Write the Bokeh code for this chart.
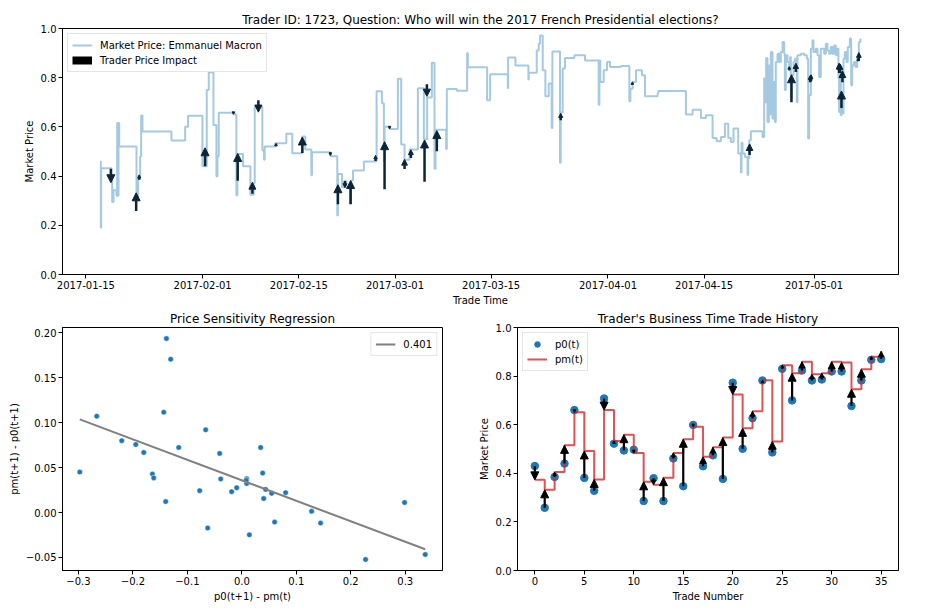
import numpy as np
import pandas as pd
from bokeh.plotting import figure
from bokeh.layouts import column, row
from bokeh.models import (ColumnDataSource, Arrow, NormalHead, FixedTicker, Range1d,
                          CustomJSTickFormatter, DatetimeTickFormatter, NumeralTickFormatter)
from bokeh.core.properties import field
from bokeh.embed import file_html
from bokeh.resources import INLINE

FONT = "DejaVu Sans"

# ---------------- data ----------------
base_date = "2017-01-15"
top_title = "Trader ID: 1723, Question: Who will win the 2017 French Presidential elections?"
market_label = "Market Price: Emmanuel Macron"

# market price (days after base_date, price) - step series
mkt_day = [2.13, 2.18, 2.23, 3.73, 3.83, 4.02, 4.46, 4.56, 4.65, 4.75, 4.85, 7.37, 7.61, 7.90, 8.05,
           8.24, 12.46, 14.45, 14.88, 16.97, 17.60, 17.89, 18.57, 19.00, 19.15, 19.34, 21.67, 21.91,
           22.06, 22.88, 23.95, 24.43, 24.58, 25.69, 25.93, 26.03, 27.58, 29.18, 30.05, 31.51, 31.94,
           32.82, 32.91, 35.63, 36.60, 36.69, 37.28, 37.66, 37.91, 38.44, 38.58, 38.88, 40.47, 42.32,
           43.09, 43.38, 43.48, 44.21, 45.42, 45.90, 46.39, 47.12, 48.33, 49.20, 49.68, 50.36, 50.75,
           50.90, 52.45, 52.54, 54.00, 55.50, 55.60, 58.41, 58.85, 61.42, 61.46, 62.53, 64.42, 64.47,
           65.63, 65.92, 66.12, 66.50, 66.89, 67.38, 67.81, 67.91, 69.02, 69.12, 69.41, 69.75, 71.11,
           72.66, 74.65, 74.75, 74.89, 75.38, 75.86, 76.30, 77.90, 79.11, 79.26, 79.59, 80.08, 80.95,
           81.39, 83.23, 83.33, 87.35, 88.32, 89.53, 90.26, 91.23, 91.81, 92.44, 93.02, 93.51, 93.89,
           94.28, 94.96, 95.35, 95.44, 95.59, 95.93, 96.32, 96.41, 96.56, 96.80, 98.50, 98.74, 98.89,
           99.03, 99.22, 99.42, 99.61, 99.71, 99.95, 100.09, 100.29, 100.43, 100.68, 100.92, 101.16,
           101.41, 101.65, 101.75, 101.89, 102.13, 102.38, 102.52, 102.62, 102.76, 103.01, 103.20,
           103.49, 103.59, 104.07, 104.56, 104.95, 105.14, 105.28, 105.53, 105.77, 105.91, 106.25,
           106.50, 106.74, 106.98, 107.47, 107.71, 107.95, 108.19, 108.43, 108.68, 108.92, 109.16,
           109.40, 109.55, 109.65, 109.79, 109.89, 109.99, 110.13, 110.28, 110.48, 110.72, 110.91,
           111.21, 111.40, 111.55, 111.79, 112.03, 112.28, 112.52, 112.76]
mkt_price = [0.46, 0.19, 0.432, 0.382, 0.295, 0.342, 0.32, 0.616, 0.32, 0.616, 0.52, 0.315, 0.39, 0.48,
             0.646, 0.581, 0.545, 0.601, 0.645, 0.44, 0.75, 0.822, 0.608, 0.399, 0.48, 0.658, 0.65,
             0.322, 0.49, 0.44, 0.324, 0.372, 0.682, 0.504, 0.466, 0.52, 0.534, 0.572, 0.493, 0.561,
             0.508, 0.403, 0.497, 0.481, 0.24, 0.409, 0.355, 0.38, 0.355, 0.29, 0.382, 0.423, 0.459,
             0.745, 0.696, 0.46, 0.601, 0.591, 0.796, 0.528, 0.466, 0.508, 0.757, 0.55, 0.72, 0.861,
             0.43, 0.588, 0.51, 0.754, 0.747, 0.90, 0.842, 0.708, 0.814, 0.757, 0.882, 0.85, 0.793,
             0.82, 0.911, 0.938, 0.972, 0.83, 0.725, 0.776, 0.596, 0.907, 0.454, 0.66, 0.837, 0.88,
             0.891, 0.87, 0.69, 0.87, 0.783, 0.83, 0.864, 0.844, 0.848, 0.704, 0.755, 0.783, 0.83,
             0.81, 0.725, 0.736, 0.746, 0.65, 0.67, 0.636, 0.647, 0.555, 0.542, 0.559, 0.613, 0.555,
             0.539, 0.593, 0.492, 0.415, 0.536, 0.492, 0.478, 0.404, 0.472, 0.546, 0.582, 0.559,
             0.797, 0.70, 0.88, 0.62, 0.85, 0.65, 0.904, 0.634, 0.783, 0.62, 0.864, 0.897, 0.864,
             0.904, 0.945, 0.897, 0.75, 0.891, 0.864, 0.83, 0.884, 0.718, 0.811, 0.864, 0.877, 0.70,
             0.891, 0.897, 0.891, 0.877, 0.553, 0.729, 0.918, 0.952, 0.904, 0.918, 0.891, 0.803,
             0.918, 0.897, 0.938, 0.911, 0.897, 0.925, 0.897, 0.931, 0.891, 0.918, 0.797, 0.661,
             0.82, 0.647, 0.729, 0.654, 0.877, 0.904, 0.864, 0.925, 0.959, 0.769, 0.85, 0.864,
             0.844, 0.877, 0.945, 0.959]

# trader's trades: time (days after base_date), p0(t) and pm(t)
trade_day = [3.64, 7.32, 7.76, 17.35, 21.47, 22.10, 24.24, 25.11, 27.68, 31.51, 35.58, 36.69,
             37.71, 38.54, 42.17, 43.48, 44.21, 46.39, 47.31, 49.30, 49.64, 51.09, 69.12, 79.55,
             96.61, 102.38, 102.71, 103.35, 105.43, 105.55, 109.65, 109.80, 109.99, 110.13,
             112.42, 112.52]
trade_number = list(range(36))
p0 = [0.430, 0.258, 0.385, 0.440, 0.660, 0.381, 0.328, 0.708, 0.522, 0.494, 0.497, 0.286,
      0.380, 0.286, 0.461, 0.347, 0.599, 0.429, 0.474, 0.377, 0.773, 0.501, 0.627, 0.782,
      0.486, 0.830, 0.700, 0.823, 0.782, 0.786, 0.819, 0.819, 0.677, 0.782, 0.867, 0.870]
pm = [0.373, 0.332, 0.405, 0.515, 0.651, 0.492, 0.375, 0.660, 0.533, 0.559, 0.484, 0.365,
      0.353, 0.382, 0.484, 0.540, 0.592, 0.468, 0.507, 0.547, 0.724, 0.585, 0.655, 0.783,
      0.531, 0.845, 0.812, 0.859, 0.808, 0.812, 0.859, 0.856, 0.746, 0.828, 0.880, 0.902]

# price sensitivity regression
sens_x = [-0.2976, -0.2664, -0.2205, -0.1948, -0.1801, -0.1642, -0.1618, -0.1434, -0.1398,
          -0.1385, -0.1306, -0.1159, -0.0774, -0.0664, -0.0627, -0.0407, -0.0388, -0.0187,
          -0.0095, 0.0089, 0.0089, 0.0080, 0.0138, 0.0345, 0.0382, 0.0401, 0.0437, 0.0547,
          0.0602, 0.0804, 0.1281, 0.1446, 0.2272, 0.2988, 0.3367]
sens_y = [0.0451, 0.1074, 0.0801, 0.0757, 0.0670, 0.0429, 0.0386, 0.1118, 0.0123, 0.1938,
          0.1708, 0.0725, 0.0244, 0.0921, -0.0172, 0.0659, 0.0375, 0.0233, 0.0276, 0.0378,
          0.0324, 0.0360, -0.0248, 0.0725, 0.0440, 0.0156, 0.0258, 0.0214, -0.0106, 0.0222,
          0.0014, -0.0117, -0.0522, 0.0112, -0.0467]
fit_slope = -0.228
fit_intercept = 0.0359
fit_label = "0.401"

date_ticks = ["2017-01-15", "2017-02-01", "2017-02-15", "2017-03-01",
              "2017-03-15", "2017-04-01", "2017-04-15", "2017-05-01"]

# ---------------- helpers ----------------
EPOCH = pd.Timestamp("1970-01-01")
BASE = pd.Timestamp(base_date)


def days_to_ms(days):
    ts = BASE + pd.to_timedelta(np.asarray(days, dtype=float), unit="D")
    return np.asarray((ts - EPOCH) / pd.Timedelta(milliseconds=1), dtype=float)


def padded(vals, frac=0.05):
    lo, hi = float(np.min(vals)), float(np.max(vals))
    d = (hi - lo) * frac
    return lo - d, hi + d


def style(p):
    p.title.text_font = FONT
    p.title.text_font_size = "12px"
    p.title.text_font_style = "normal"
    p.title.text_color = "black"
    p.title.align = "center"
    p.title.standoff = 3
    p.outline_line_color = "black"
    p.outline_line_width = 1
    p.outline_line_alpha = 1
    p.grid.visible = False
    p.background_fill_color = "white"
    p.border_fill_color = "white"
    for ax in p.axis:
        ax.major_label_text_font = FONT
        ax.major_label_text_font_size = "10px"
        ax.major_label_text_color = "black"
        ax.axis_label_text_font = FONT
        ax.axis_label_text_font_size = "10px"
        ax.axis_label_text_font_style = "normal"
        ax.axis_label_text_color = "black"
        ax.major_tick_out = 4
        ax.major_tick_in = 0
        ax.minor_tick_line_color = None
        ax.major_label_standoff = 2
        ax.axis_label_standoff = 3
        ax.axis_line_color = "black"
        ax.major_tick_line_color = "black"


def style_legend(lg, loc):
    lg.location = loc
    lg.label_text_font = FONT
    lg.label_text_font_size = "10px"
    lg.label_text_color = "black"
    lg.border_line_color = "#cccccc"
    lg.border_line_width = 1
    lg.background_fill_alpha = 0.8
    lg.margin = 5
    lg.padding = 4
    lg.spacing = 1
    lg.glyph_width = 20
    lg.glyph_height = 14
    lg.label_height = 14
    lg.label_standoff = 8


def head_sizes(a, b, px_per_unit, cap, k):
    return [float(min(cap, max(2.5, abs(y1 - y0) * px_per_unit * k))) for y0, y1 in zip(a, b)]


# ---------------- top: market price over time ----------------
mkt_ms = days_to_ms(mkt_day)
trade_ms = days_to_ms(trade_day)
xs, xe = padded(mkt_ms)

top = figure(width=932, height=308, x_axis_type="datetime", output_backend="svg",
             toolbar_location=None, x_range=Range1d(xs, xe), y_range=Range1d(0, 1),
             min_border_left=62, min_border_right=34, min_border_top=28, min_border_bottom=34,
             title=top_title)
top.step(x=mkt_ms, y=mkt_price, mode="after", line_color="#1f77b4", line_alpha=0.4,
         line_width=2, legend_label=market_label)
# legend-only entry (no visible mark): a thick black patch
top.line(x=[np.nan, np.nan], y=[np.nan, np.nan], line_color="black", line_width=8,
         legend_label="Trader Price Impact")

top_src = ColumnDataSource(dict(t=trade_ms, p0=p0, pm=pm,
                                hs=head_sizes(p0, pm, 246.0, 8.0, 0.6)))
top.add_layout(Arrow(end=NormalHead(size=field("hs"), fill_color="#0c2437", line_color="#0c2437",
                                    line_width=1),
                     x_start="t", y_start="p0", x_end="t", y_end="pm", source=top_src,
                     line_color="#0c2437", line_width=2.5))

top.xaxis.ticker = FixedTicker(ticks=list(days_to_ms(
    [(pd.Timestamp(d) - BASE) / pd.Timedelta(days=1) for d in date_ticks])))
fmt = "%Y-%m-%d"
top.xaxis.formatter = DatetimeTickFormatter(milliseconds=fmt, seconds=fmt, minsec=fmt, minutes=fmt,
                                            hourmin=fmt, hours=fmt, days=fmt, months=fmt, years=fmt)
top.yaxis.ticker = FixedTicker(ticks=[0, 0.2, 0.4, 0.6, 0.8, 1.0])
top.yaxis.formatter = NumeralTickFormatter(format="0.0")
top.xaxis.axis_label = "Trade Time"
top.yaxis.axis_label = "Market Price"
style(top)
style_legend(top.legend[0], "top_left")

# ---------------- bottom left: price sensitivity regression ----------------
bx0, bx1 = padded(sens_x)
by0, by1 = padded(sens_y)
bl = figure(width=472, height=296, output_backend="svg", toolbar_location=None,
            x_range=Range1d(bx0, bx1), y_range=Range1d(by0, by1),
            min_border_left=62, min_border_right=30, min_border_top=16, min_border_bottom=33,
            title="Price Sensitivity Regression")
bl.scatter(x=sens_x, y=sens_y, size=5.5, fill_color="#1f77b4", line_color="white", line_width=0.5)
fit_x = [min(sens_x), max(sens_x)]
fit_y = [fit_intercept + fit_slope * v for v in fit_x]
bl.line(x=fit_x, y=fit_y, line_color="#808080", line_width=2, legend_label=fit_label)
bl.xaxis.ticker = FixedTicker(ticks=[-0.3, -0.2, -0.1, 0.0, 0.1, 0.2, 0.3])
bl.yaxis.ticker = FixedTicker(ticks=[-0.05, 0.0, 0.05, 0.10, 0.15, 0.20])
bl.xaxis.formatter = CustomJSTickFormatter(
    code="return (tick < -1e-9 ? '\\u2212' : '') + Math.abs(tick).toFixed(1);")
bl.yaxis.formatter = CustomJSTickFormatter(
    code="return (tick < -1e-9 ? '\\u2212' : '') + Math.abs(tick).toFixed(2);")
bl.xaxis.axis_label = "p0(t+1) - pm(t)"
bl.yaxis.axis_label = "pm(t+1) - p0(t+1)"
style(bl)
style_legend(bl.legend[0], "top_right")

# ---------------- bottom right: business time trade history ----------------
rx0, rx1 = padded(trade_number)
br = figure(width=460, height=296, output_backend="svg", toolbar_location=None,
            x_range=Range1d(rx0, rx1), y_range=Range1d(0, 1),
            min_border_left=45, min_border_right=34, min_border_top=16, min_border_bottom=33,
            title="Trader's Business Time Trade History")
br.scatter(x=trade_number, y=p0, size=7.5, fill_color="#1f77b4", line_color="#1f77b4",
           legend_label="p0(t)")
br.step(x=trade_number, y=pm, mode="after", line_color="#d62728", line_alpha=0.8, line_width=2,
        legend_label="pm(t)")
br_src = ColumnDataSource(dict(t=trade_number, p0=p0, pm=pm,
                               hs=head_sizes(p0, pm, 247.0, 8.0, 0.7)))
br.add_layout(Arrow(end=NormalHead(size=field("hs"), fill_color="black", line_color="black",
                                   line_width=1),
                    x_start="t", y_start="p0", x_end="t", y_end="pm", source=br_src,
                    line_color="black", line_width=2.2))
br.xaxis.ticker = FixedTicker(ticks=[0, 5, 10, 15, 20, 25, 30, 35])
br.yaxis.ticker = FixedTicker(ticks=[0, 0.2, 0.4, 0.6, 0.8, 1.0])
br.yaxis.formatter = NumeralTickFormatter(format="0.0")
br.xaxis.axis_label = "Trade Number"
br.yaxis.axis_label = "Market Price"
style(br)
style_legend(br.legend[0], "top_left")

layout = column(top, row(bl, br))
open("out.html", "w").write(file_html(layout, INLINE))
